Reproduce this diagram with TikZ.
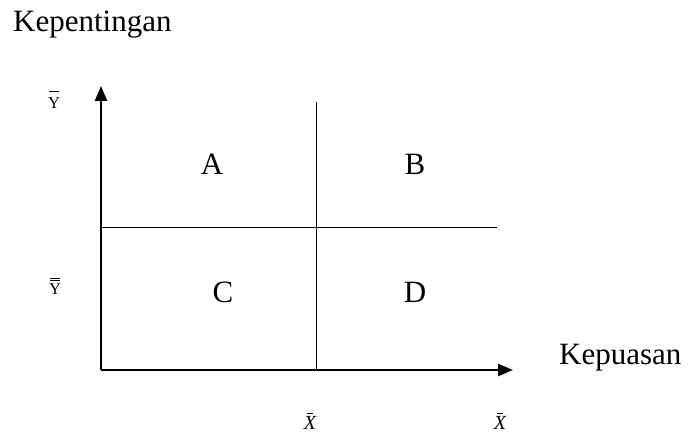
\documentclass[tikz,border=0pt]{standalone}
\usepackage{fontspec}
\setmainfont{Liberation Serif}
\usetikzlibrary{arrows.meta}
\newcommand\barred[3]{\setbox0\hbox{#3}\vbox{\offinterlineskip\hbox to\wd0{\hss\vrule width #1\wd0 height 0.9pt\hss}\kern#2\box0}}
\newcommand\dbarred[2]{\setbox0\hbox{#2}\vbox{\offinterlineskip\hbox to\wd0{\hss\vrule width #1\wd0 height 0.9pt\hss}\kern2pt\hbox to\wd0{\hss\vrule width #1\wd0 height 0.9pt\hss}\kern2.2pt\box0}}
\tikzset{
  axis/.style={line width=2.6pt, -{Triangle[length=15pt,width=12pt]}},
  grid/.style={line width=0.9pt},
  lbl/.style={font=\fontsize{31}{36}\selectfont, inner sep=0pt, anchor=base},
  ylbl/.style={font=\fontsize{16.5}{19}\selectfont, inner sep=0pt},
  xlbl/.style={font=\fontsize{20}{24}\selectfont\itshape, inner sep=0pt}
}
\begin{document}
\begin{tikzpicture}[x=1pt,y=-1pt]
\useasboundingbox (0,0) rectangle (689,443);
\coordinate (O) at (101,370);
\coordinate (ytip) at (101,86);
\coordinate (xtip) at (513,370);
\coordinate (hl) at (101,227);
\coordinate (hr) at (497,227);
\coordinate (vt) at (316,102);
\coordinate (vb) at (316,370);
\draw[grid] (hl) -- (hr);
\draw[grid] (vt) -- (vb);
\draw[axis] (O) -- (ytip);
\draw[axis] (O) -- (xtip);
\node[lbl, anchor=base west] (kep) at (13,32) {Kepentingan};
\node[lbl, anchor=base west] (kpu) at (559,365) {Kepuasan};
\node[lbl] (A) at (212,175) {A};
\node[lbl] (B) at (415,175) {B};
\node[lbl] (C) at (223,303) {C};
\node[lbl] (D) at (415,303) {D};
\node[ylbl] (ybar) at (54,100) {\barred{0.85}{6pt}{Y}};
\node[ylbl] (ybb) at (55,286) {\dbarred{0.85}{Y}};
\node[xlbl] (x1) at (310,421) {\barred{0.5}{2.5pt}{X}};
\node[xlbl] (x2) at (500,421) {\barred{0.5}{2.5pt}{X}};
\end{tikzpicture}
\end{document}
